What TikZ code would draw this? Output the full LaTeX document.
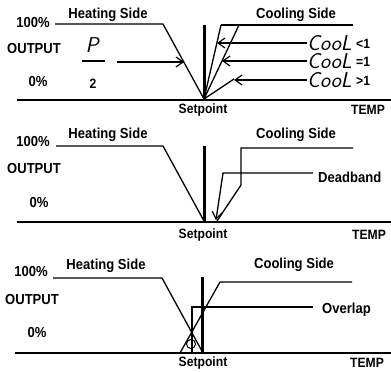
\documentclass[tikz,border=0pt]{standalone}
\usepackage{fontspec}
\setmainfont{Liberation Sans}[FakeStretch=0.9]
\usetikzlibrary{arrows.meta}
\begin{document}
\begin{tikzpicture}[x=1pt,y=-1pt,
  lbl/.style={font=\fontsize{14.5}{15}\selectfont\bfseries, inner sep=0pt},
  lbls/.style={font=\fontsize{13.5}{14}\selectfont\bfseries, inner sep=0pt},
  sub/.style={font=\fontsize{13.5}{14}\selectfont\bfseries, inner sep=0pt},
  lcd/.style={font=\fontsize{21.5}{22}\selectfont\sffamily\itshape, inner sep=0pt,
    text height=15pt, text depth=0pt},
  curve/.style={line width=1.3pt},
  axisline/.style={line width=2.6pt},
  spline/.style={line width=3pt},
  arr/.style={curve, -{Straight Barb[length=7pt,width=10pt,line width=1.2pt]}}]
\useasboundingbox (0,0) rectangle (391,372);

% ---------- panel 1 ----------
\node[lbl] (hs1) at (108,15) {Heating Side};
\node[lbl] (cs1) at (296,15) {Cooling Side};
\node[lbl] (hi1) at (33,23) {100\%};
\node[lbl] (out1) at (34,49) {OUTPUT};
\node[lbl] (lo1) at (38,82) {0\%};
\node[lbls] (sp1) at (203,110) {Setpoint};
\node[lbls] (tp1) at (368,110) {TEMP};
\coordinate (a1l) at (17,100); \coordinate (a1r) at (391,100);
\draw[axisline] (a1l) -- (a1r);
\coordinate (v1t) at (204,25); \coordinate (v1b) at (204,99);
\draw[spline] (v1t) -- (v1b);
\coordinate (h1a) at (55,24); \coordinate (h1b) at (163,24);
\draw[curve] (h1a) -- (h1b) -- (v1b);
\coordinate (c1a) at (221,25); \coordinate (c1b) at (239,25);
\coordinate (c1r) at (353,25); \coordinate (c1c) at (234,79);
\draw[curve] (c1a) -- (c1r);
\draw[curve] (v1b) -- (c1a);
\draw[curve] (v1b) -- (c1b);
\draw[curve] (v1b) -- (c1c);
\node[lcd, anchor=west] (cl1) at (307,43) {CooL};
\node[sub, anchor=west] (cl1s) at ([xshift=4pt,yshift=-1pt]cl1.east) {<1};
\node[lcd, anchor=west] (cl2) at (307,61) {CooL};
\node[sub, anchor=west] (cl2s) at ([xshift=4pt,yshift=-1pt]cl2.east) {=1};
\node[lcd, anchor=west] (cl3) at (307,80) {CooL};
\node[sub, anchor=west] (cl3s) at ([xshift=4pt,yshift=-1pt]cl3.east) {>1};
\coordinate (t1) at (217,43); \coordinate (t2) at (222,61); \coordinate (t3) at (234,80);
\draw[arr] (cl1.west) -- (t1);
\draw[arr] (cl2.west) -- (t2);
\draw[arr] (cl3.west) -- (t3);
\node[lcd] (pp) at (92,45) {P};
\coordinate (fb1) at (82,61); \coordinate (fb2) at (105,61);
\draw[line width=2pt] (fb1) -- (fb2);
\node[sub] (two) at (93,84) {2};
\coordinate (pa1) at (117,62); \coordinate (pa2) at (184,62);
\draw[arr] (pa1) -- (pa2);

% ---------- panel 2 ----------
\node[lbl] (hs2) at (108,135) {Heating Side};
\node[lbl] (cs2) at (296,135) {Cooling Side};
\node[lbl] (hi2) at (33,142) {100\%};
\node[lbl] (out2) at (34,169) {OUTPUT};
\node[lbl] (lo2) at (39,203) {0\%};
\node[lbls] (sp2) at (203,235) {Setpoint};
\node[lbls] (tp2) at (369,235) {TEMP};
\coordinate (a2l) at (17,222); \coordinate (a2r) at (391,222);
\draw[axisline] (a2l) -- (a2r);
\coordinate (v2t) at (204,146); \coordinate (v2b) at (204,221);
\draw[spline] (v2t) -- (v2b);
\coordinate (h2a) at (56,146); \coordinate (h2b) at (163,146);
\draw[curve] (h2a) -- (h2b) -- (v2b);
\coordinate (k2a) at (353,148); \coordinate (k2b) at (241,148);
\coordinate (k2c) at (241,185); \coordinate (k2d) at (217,221);
\draw[curve] (k2a) -- (k2b) -- (k2c) -- (k2d);
\node[lbl, anchor=west] (db) at (318,177) {Deadband};
\coordinate (d1) at (313,173); \coordinate (d2) at (223,173); \coordinate (d3) at (216,220);
\draw[arr] (d1) -- (d2) -- (d3);

% ---------- panel 3 ----------
\node[lbl] (hs3) at (106,266) {Heating Side};
\node[lbl] (cs3) at (294,265) {Cooling Side};
\node[lbl] (hi3) at (31,272) {100\%};
\node[lbl] (out3) at (32,300) {OUTPUT};
\node[lbl] (lo3) at (37,333) {0\%};
\node[lbls] (sp3) at (203,363) {Setpoint};
\node[lbls] (tp3) at (367,363) {TEMP};
\coordinate (a3l) at (15,353); \coordinate (a3r) at (391,353);
\draw[axisline] (a3l) -- (a3r);
\coordinate (v3t) at (202,277); \coordinate (v3b) at (202,353);
\draw[spline] (v3t) -- (v3b);
\coordinate (h3a) at (53,278); \coordinate (h3b) at (162,278); \coordinate (h3c) at (203,353);
\draw[curve] (h3a) -- (h3b) -- (h3c);
\coordinate (k3a) at (180,353); \coordinate (k3b) at (220,282); \coordinate (k3c) at (352,282);
\draw[curve] (k3a) -- (k3b) -- (k3c);
\coordinate (ob1) at (192,353); \coordinate (ob2) at (192,307); \coordinate (ob3) at (313,307);
\draw[curve] (ob1) -- (ob2) -- (ob3);
\node[lbl, anchor=west] (ov) at (322,310) {Overlap};
\coordinate (oc) at (191,344);
\draw[line width=1pt] (oc) circle[radius=4.5];
\end{tikzpicture}
\end{document}
